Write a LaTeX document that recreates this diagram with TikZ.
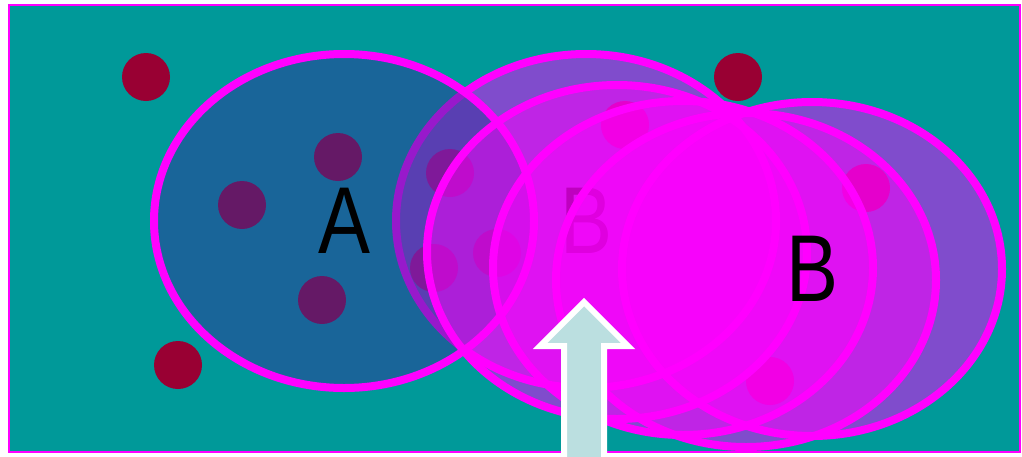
\documentclass[tikz,border=0pt]{standalone}
\usepackage{graphicx}
\usepackage{fontspec}
\setmainfont{Liberation Sans}
\usetikzlibrary{shapes.geometric,calc}
\definecolor{poolbg}{HTML}{009999}
\definecolor{rim}{HTML}{FF00FF}
\definecolor{berry}{HTML}{990033}
\definecolor{setblue}{HTML}{333399}
\definecolor{pointerfill}{HTML}{BBDFE0}
\newcommand{\setlabel}[1]{\scalebox{0.82}[1]{\fontsize{95}{95}\selectfont #1}}

\begin{document}
\begin{tikzpicture}[x=1pt,y=-1pt,
    blob/.style={ellipse,draw=rim,line width=8pt,minimum width=380pt,minimum height=334pt,inner sep=0pt,text opacity=1},
    setA/.style={blob,fill=setblue,fill opacity=0.5},
    ghost/.style={blob,fill=rim,fill opacity=0.5},
    dot/.style={circle,fill=berry,minimum size=48pt,inner sep=0pt},
    pointer/.style={fill=pointerfill,draw=white,line width=6pt,line join=miter}]
  \useasboundingbox (0,0) rectangle (1022,456);
  \draw[rim,line width=2pt,fill=poolbg] (9,5) rectangle (1020,452);
  % points of the plane
  \foreach \x/\y [count=\i] in {146/77,738/77,178/365,338/157,242/205,322/300,
      450/173,434/268,497/253,625/125,866/188,770/381}
    \node[dot] (dot\i) at (\x,\y) {};
  % set B, start and trail
  \node[ghost] (b1) at (586,221) {\setlabel{B}};
  \node[setA] (a) at (344,221) {\setlabel{A}};
  \node[ghost] (b2) at (617,252) {};
  \node[ghost] (b3) at (683,268) {};
  \node[ghost] (b4) at (746,280) {};
  \node[ghost] (b5) at (812,269) {\setlabel{B}};
  % arrow
  \coordinate (tail) at (584,470);
  \coordinate (tip) at (584,302);
  \draw[pointer] ($(tail)+(-20,0)$) -- ($(tip)+(-20,44)$) -- ($(tip)+(-44,44)$) -- (tip)
    -- ($(tip)+(44,44)$) -- ($(tip)+(20,44)$) -- ($(tail)+(20,0)$) -- cycle;
\end{tikzpicture}
\end{document}
